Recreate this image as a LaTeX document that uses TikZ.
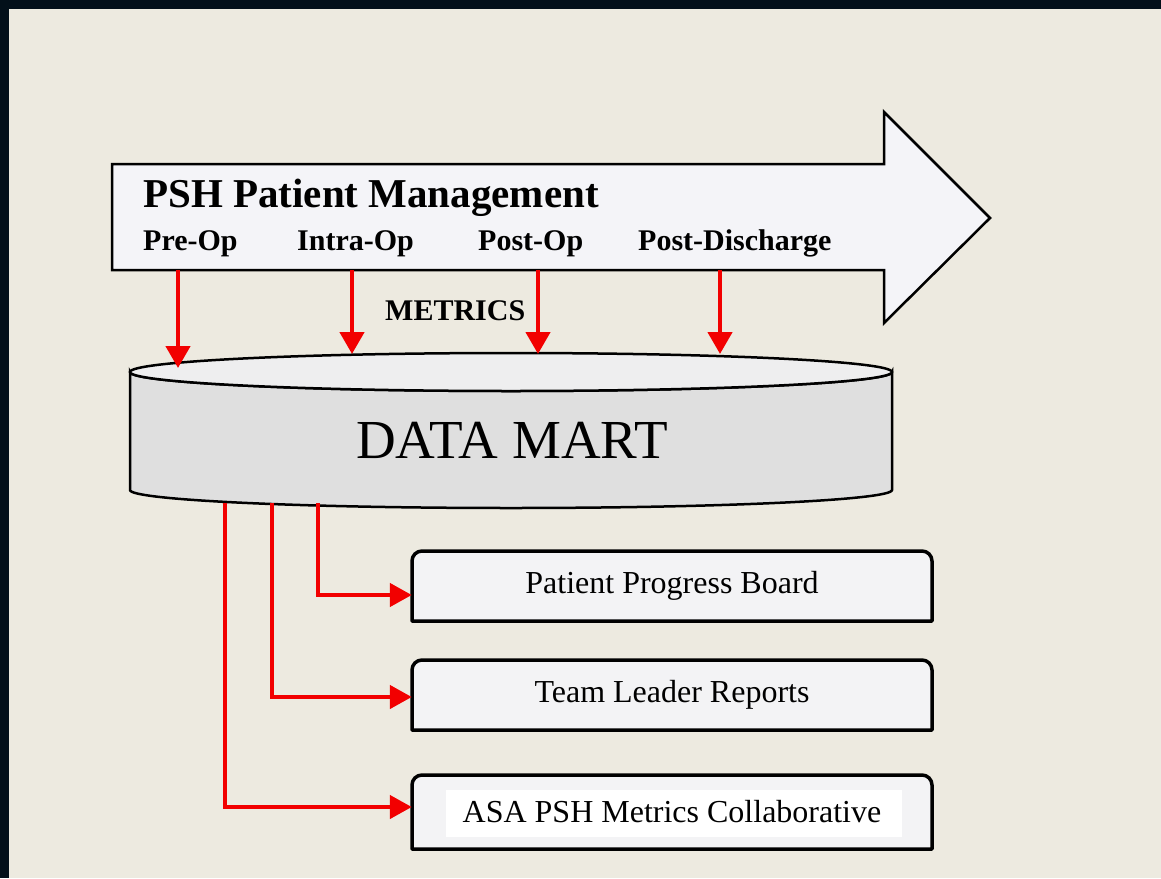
\documentclass[tikz,border=0pt]{standalone}
\usepackage{fontspec}
\setmainfont{Liberation Serif}
\usepackage{xcolor}
\usepackage{tikz}
\usetikzlibrary{arrows.meta, positioning, calc}
\definecolor{slide}{HTML}{03101A}
\definecolor{panel}{HTML}{EDEAE0}
\definecolor{flow}{HTML}{F4F4F8}
\definecolor{martside}{HTML}{DFDFDF}
\definecolor{marttop}{HTML}{EEEEEF}
\definecolor{outfill}{HTML}{F3F3F5}
\definecolor{feedred}{HTML}{F20000}
\newcommand{\titlefont}{\fontsize{41}{46}\selectfont\bfseries}
\newcommand{\stagefont}{\fontsize{30}{34}\selectfont\bfseries}
\newcommand{\martfont}{\fontsize{55}{60}\selectfont}
\newcommand{\boxfont}{\fontsize{32}{36}\selectfont}

\begin{document}
\begin{tikzpicture}[x=1pt, y=-1pt,
  metric/.style={draw=feedred, line width=4.5pt, -{Triangle[length=22pt, width=24pt]}},
  report/.style={draw=feedred, line width=4.5pt, -{Triangle[length=22pt, width=23pt]}},
  outbox/.style={fill=outfill, draw=black, line width=3.5pt, line join=round},
  stage/.style={anchor=base west, font=\stagefont, inner sep=0pt}]

% Background
\useasboundingbox (0,0) rectangle (1161,878);
\fill[slide] (0,0) rectangle (1161,878);
\fill[panel] (9,9) rectangle (1161,878);

% Process arrow
\filldraw[fill=flow, draw=black, line width=2.5pt]
  (112,164) -- (884,164) -- (884,112) -- (990,218) -- (884,323) -- (884,270) -- (112,270) -- cycle;
\node[anchor=base west, font=\titlefont, inner sep=0pt] (title) at (143,207) {PSH Patient Management};
\foreach \n/\x/\t in {pre/143/Pre-Op, intra/297/Intra-Op, post/478/Post-Op, disch/638/Post-Discharge}
  \node[stage] (\n) at (\x,250) {\t};

% Data mart
\filldraw[fill=martside, draw=black, line width=2.5pt]
  (130,372) -- (130,490) arc[start angle=180, end angle=0, x radius=381, y radius=18]
  -- (892,372) arc[start angle=0, end angle=180, x radius=381, y radius=19] -- cycle;
\filldraw[fill=marttop, draw=black, line width=2.5pt] (511,372) ellipse[x radius=381, y radius=19];
\node[font=\martfont] (mart) at (512,440) {DATA MART};

% Metrics
\node[stage] (metrics) at (385,320) {METRICS};
\foreach \n/\x/\y in {pre/178/368, intra/352/354, post/538/354, disch/720/354} {
  \coordinate (\n-out) at (\x,270);
  \coordinate (\n-in) at (\x,\y);
  \draw[metric] (\n-out) -- (\n-in);
}

% Reports
\foreach \yt/\yb in {551/621, 660/730, 775/849}
  \filldraw[outbox] (412,\yb) -- (412,{\yt+10}) arc[start angle=180, end angle=90, radius=10pt]
    -- (922,\yt) arc[start angle=90, end angle=0, radius=10pt] -- (932,\yb) -- cycle;
\fill[white] (446,790) rectangle (902,837);
\foreach \n/\yt/\yb/\t in {ppb/551/621/Patient Progress Board, tlr/660/730/Team Leader Reports, asa/775/849/ASA PSH Metrics Collaborative}
  \node[font=\boxfont, inner sep=0pt, minimum width=520pt, minimum height={(\yb-\yt)*1pt}] (\n) at (672,{(\yt+\yb)/2}) {\t};

\foreach \n/\x/\y in {ppb/318/595, tlr/272/697, asa/225/807} {
  \coordinate (\n-tap) at (\x,503);
  \draw[report] (\n-tap) |- (\n.west |- 0,\y);
}

\end{tikzpicture}
\end{document}
